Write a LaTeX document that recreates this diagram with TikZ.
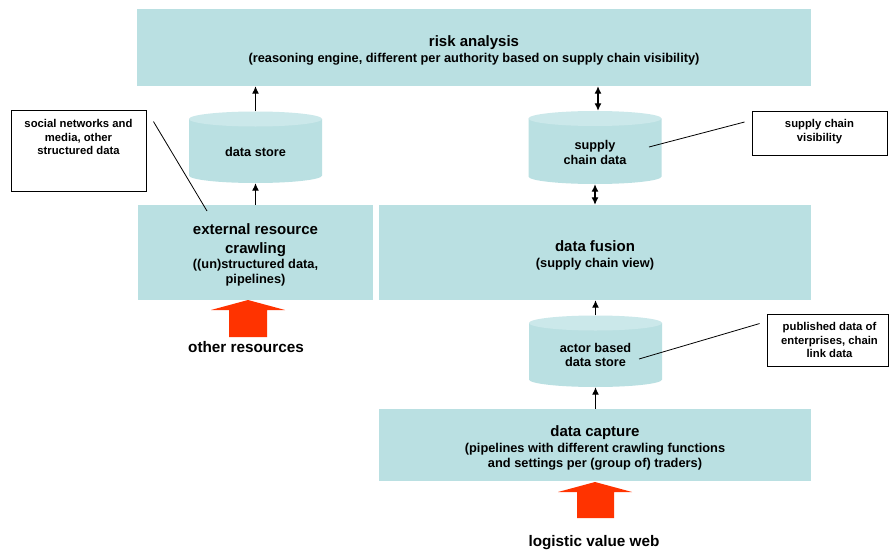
\documentclass[tikz,border=0pt]{standalone}
\usepackage{fontspec}
\setmainfont{Liberation Sans}
\usetikzlibrary{arrows.meta}
\definecolor{boxfill}{HTML}{BAE0E2}
\definecolor{cyltop}{HTML}{CBE8EA}
\definecolor{bigred}{HTML}{FF3300}
\tikzset{
 blockbox/.style={fill=boxfill, inner sep=0pt},
 blocktext/.style={inner sep=0pt, align=center, font=\bfseries\fontsize{12.8}{15}\selectfont},
 callout/.style={draw=black, line width=0.9pt, fill=white, inner sep=0pt},
 callouttext/.style={align=center, font=\bfseries\fontsize{11.3}{13.5}\selectfont, inner sep=0pt, anchor=north},
 cylnode/.style={inner sep=0pt, minimum width=133pt},
 cyltext/.style={align=center, font=\bfseries\fontsize{12.7}{14.5}\selectfont, inner sep=0pt},
 link/.style={line width=1.2pt, -{Latex[length=7.5pt,width=7pt]}},
 dlink/.style={line width=1.2pt, {Latex[length=7.5pt,width=7pt]}-{Latex[length=7.5pt,width=7pt]}},
 leader/.style={line width=0.8pt},
 bigarrow/.style={fill=bigred},
 biglabel/.style={font=\bfseries\fontsize{15.3}{18}\selectfont, inner sep=0pt},
}
\newcommand{\hd}[1]{{\fontsize{15}{18.5}\selectfont #1}}
\newcommand{\drawcyl}[3]{%
 \fill[boxfill] (#1-66.5,#2+7.5) -- (#1-66.5,#3-7.5) arc[start angle=180,end angle=360,x radius=66.5pt,y radius=7.5pt] -- (#1+66.5,#2+7.5) -- cycle;
 \fill[cyltop] (#1,#2+7.5) ellipse[x radius=66.5pt, y radius=7.5pt];}
\begin{document}
\begin{tikzpicture}[x=1pt,y=-1pt]
\useasboundingbox[fill=white] (0,0) rectangle (889,554);

% main blocks
\node[blockbox, minimum width=674pt, minimum height=77pt] (risk) at (474,47.5) {};
\node[blocktext] (risktext) at ([yshift=-3pt]risk.center)
 {\hd{risk analysis}\\[1pt](reasoning engine, different per authority based on supply chain visibility)};
\node[blockbox, minimum width=235pt, minimum height=95pt] (ext) at (255.5,252.5) {};
\node[blocktext] (exttext) at ([yshift=-2.5pt]ext.center)
 {\hd{external resource}\\[4pt]\hd{crawling}\\((un)structured data,\\pipelines)};
\node[blockbox, minimum width=432pt, minimum height=95pt] (fusion) at (595,252.5) {};
\node[blocktext] (fusiontext) at ([yshift=-2.5pt]fusion.center)
 {\hd{data fusion}\\[1pt](supply chain view)};
\node[blockbox, minimum width=432pt, minimum height=72pt] (capture) at (595,445) {};
\node[blocktext] (capturetext) at ([yshift=-2.5pt]capture.center)
 {\hd{data capture}\\[1pt](pipelines with different crawling functions\\and settings per (group of) traders)};

% cylinders
\drawcyl{255.5}{111.5}{183}
\drawcyl{595}{111}{184}
\drawcyl{595.5}{315.5}{387}
\node[cylnode, minimum height=71.5pt] (ds) at (255.5,147.25) {};
\node[cylnode, minimum height=73pt] (scd) at (595,147.5) {};
\node[cylnode, minimum height=71.5pt] (actor) at (595.5,351.25) {};
\node[cyltext] (dstext) at (255.5,152) {data store};
\node[cyltext] (scdtext) at (595,152.5) {supply\\chain data};
\node[cyltext] (actortext) at (595.5,355) {actor based\\data store};

% callouts
\node[callout, minimum width=135pt, minimum height=81pt] (soc) at (78.5,150.5) {};
\node[callouttext] (soctext) at ([yshift=-10pt]soc.north) {social networks and\\media, other\\structured data};
\node[callout, minimum width=135pt, minimum height=44pt] (scv) at (819.5,133) {};
\node[callouttext] (scvtext) at ([yshift=-9pt]scv.north) {supply chain\\visibility};
\node[callout, minimum width=121pt, minimum height=52pt] (pub) at (827.5,340) {};
\node[callouttext] (pubtext) at ([xshift=2pt,yshift=-9pt]pub.north) {published data of\\enterprises, chain\\link data};

\coordinate (socend) at (207,211);
\coordinate (scvend) at (649,147);
\coordinate (pubend) at (639,359);
\draw[leader] ([xshift=7pt,yshift=-12pt]soc.north east) -- (socend);
\draw[leader] ([xshift=-7pt,yshift=11pt]scv.west) -- (scvend);
\draw[leader] ([xshift=-7pt,yshift=-10pt]pub.north west) -- (pubend);

% connectors
\draw[link] (ds.north) -- (ds.north |- risk.south);
\draw[link] (ext.north -| ds.south) -- (ds.south);
\draw[dlink] ([xshift=3pt]scd.north) -- ([xshift=3pt]scd.north |- risk.south);
\draw[dlink] (scd.south) -- (scd.south |- fusion.north);
\draw[link] (actor.north) -- (actor.north |- fusion.south);
\draw[link] (capture.north -| actor.south) -- (actor.south);

% big red arrows
\fill[bigarrow] (229,337) -- (229,310) -- (211,310) -- (248,300) -- (285,310) -- (267,310) -- (267,337) -- cycle;
\fill[bigarrow] (577,518) -- (577,492) -- (558,492) -- (595,482) -- (632,492) -- (614,492) -- (614,518) -- cycle;
\node[biglabel] (other) at (246,347) {other resources};
\node[biglabel] (lvw) at (594,543) {logistic value web};
\end{tikzpicture}
\end{document}
